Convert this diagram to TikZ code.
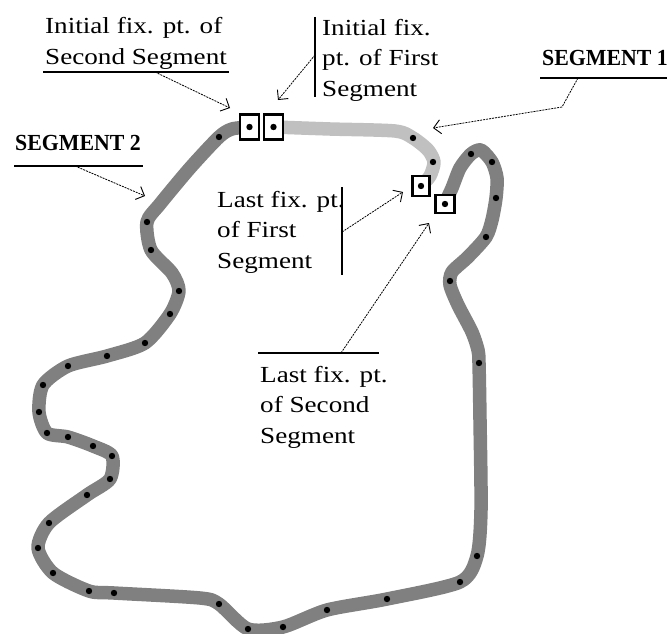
\documentclass[tikz,border=0pt]{standalone}
\usepackage{fontspec}
\setmainfont{Liberation Serif}[FakeStretch=1.18]
\newfontfamily\segfont{Liberation Serif}[FakeStretch=0.95]
\usetikzlibrary{arrows.meta}
\definecolor{segdark}{RGB}{128,128,128}
\definecolor{seglight}{RGB}{192,192,192}
\begin{document}
\begin{tikzpicture}[x=1pt,y=-1pt,
  lbl/.style={font=\fontsize{23}{30.5}\selectfont, align=left, anchor=base west, inner sep=0pt},
  seglbl/.style={font=\segfont\bfseries\fontsize{23}{26}\selectfont, anchor=base west, inner sep=0pt},
  leader/.style={line width=0.8pt, dash pattern=on 2pt off 1pt, -{Straight Barb[length=7pt,width=14pt,line width=0.9pt]}},
  rulel/.style={line width=1.2pt},
  fixbox/.style={draw, line width=2.5pt, fill=white, inner sep=0pt},
  curve/.style={line width=13.5pt, line cap=round, line join=round}]
\useasboundingbox (0,0) rectangle (669,634);

% segment 2 (dark)
\draw[curve, segdark] plot[smooth, tension=0.45] coordinates {
 (445,203) (452,188) (460,168) (471,154) (481,150) (492,162) (497,178) (496,198) (492,220) (486,237)
 (468,257) (452,272) (450,285) (458,305) (472,332) (478,350) (479,363) (480,420) (481,510) (477,556)
 (460,582) (387,599) (327,610) (283,627) (248,629) (219,604) (200,598) (114,593) (89,591) (53,573)
 (38,548) (49,523) (87,495) (110,479) (112,456) (93,446) (68,437) (47,433) (39,412) (43,385)
 (68,366) (107,356) (145,343) (170,314) (179,291) (172,273) (151,250) (147,222) (160,204) (190,168)
 (219,137) (232,129) (249,127)};
% segment 1 (light)
\draw[curve, seglight] plot[smooth, tension=0.45] coordinates {
 (274,127) (330,129) (395,131) (413,138) (428,150) (434,162) (430,176) (421,186)};

% dots
\foreach \p in {(219,137),(147,222),(151,250),(179,291),(170,314),(145,343),(107,356),(68,366),(43,385),(39,412),
 (47,433),(68,437),(93,446),(112,456),(110,479),(87,495),(49,523),(38,548),(53,573),(89,591),(114,593),
 (219,604),(248,629),(283,627),(327,610),(387,599),(460,582),(477,556),(479,363),(450,281),(486,237),
 (496,198),(492,162),(471,154),(413,138),(433,162)}
  \fill \p circle (3.2pt);

% fixed-point boxes
\node[fixbox, minimum width=19pt, minimum height=25pt] (b1) at (249.5,127) {};
\node[fixbox, minimum width=19pt, minimum height=25pt] (b2) at (273.5,127) {};
\node[fixbox, minimum width=17pt, minimum height=20pt] (b3) at (421,186) {};
\node[fixbox, minimum width=19pt, minimum height=18pt] (b4) at (445,204) {};
\foreach \b in {b1,b2,b3,b4} \fill (\b.center) circle (3.2pt);

% labels (anchor = baseline of the last line)
\node[lbl] (initsec) at (45,64) {Initial fix. pt. of\\Second Segment};
\node[lbl] (initfirst) at (322,96) {Initial fix.\\pt. of First\\Segment};
\node[seglbl] (seg1) at (542,66) {SEGMENT 1};
\node[seglbl] (seg2) at (15,150) {SEGMENT 2};
\node[lbl] (lastfirst) at (217,268) {Last fix. pt.\\of First\\Segment};
\node[lbl] (lastsec) at (260,443) {Last fix. pt.\\of Second\\Segment};

% rules and leader anchors
\coordinate (uA1) at (43,72);  \coordinate (uA2) at (229,72);  \coordinate (sA) at (155,72);  \coordinate (tA) at (230,108);
\coordinate (uB1) at (315,17); \coordinate (uB2) at (315,97);  \coordinate (sB) at (315,55);  \coordinate (tB) at (278,100);
\coordinate (uC1) at (540,78); \coordinate (uC2) at (667,78);  \coordinate (sC) at (578,78);  \coordinate (kC) at (562,107); \coordinate (tC) at (433,128);
\coordinate (uD1) at (14,166); \coordinate (uD2) at (143,166); \coordinate (sD) at (75,166);  \coordinate (tD) at (145,196);
\coordinate (uE1) at (342,187);\coordinate (uE2) at (342,275); \coordinate (sE) at (342,232); \coordinate (tE) at (403,192);
\coordinate (uF1) at (258,353);\coordinate (uF2) at (379,353); \coordinate (sF) at (341,353); \coordinate (tF) at (429,223);

\foreach \a/\b in {uA1/uA2,uB1/uB2,uC1/uC2,uD1/uD2,uE1/uE2,uF1/uF2} \draw[rulel] (\a) -- (\b);

\draw[leader] (sA) -- (tA);
\draw[leader] (sB) -- (tB);
\draw[leader] (sC) -- (kC) -- (tC);
\draw[leader] (sD) -- (tD);
\draw[leader] (sE) -- (tE);
\draw[leader] (sF) -- (tF);
\end{tikzpicture}
\end{document}
